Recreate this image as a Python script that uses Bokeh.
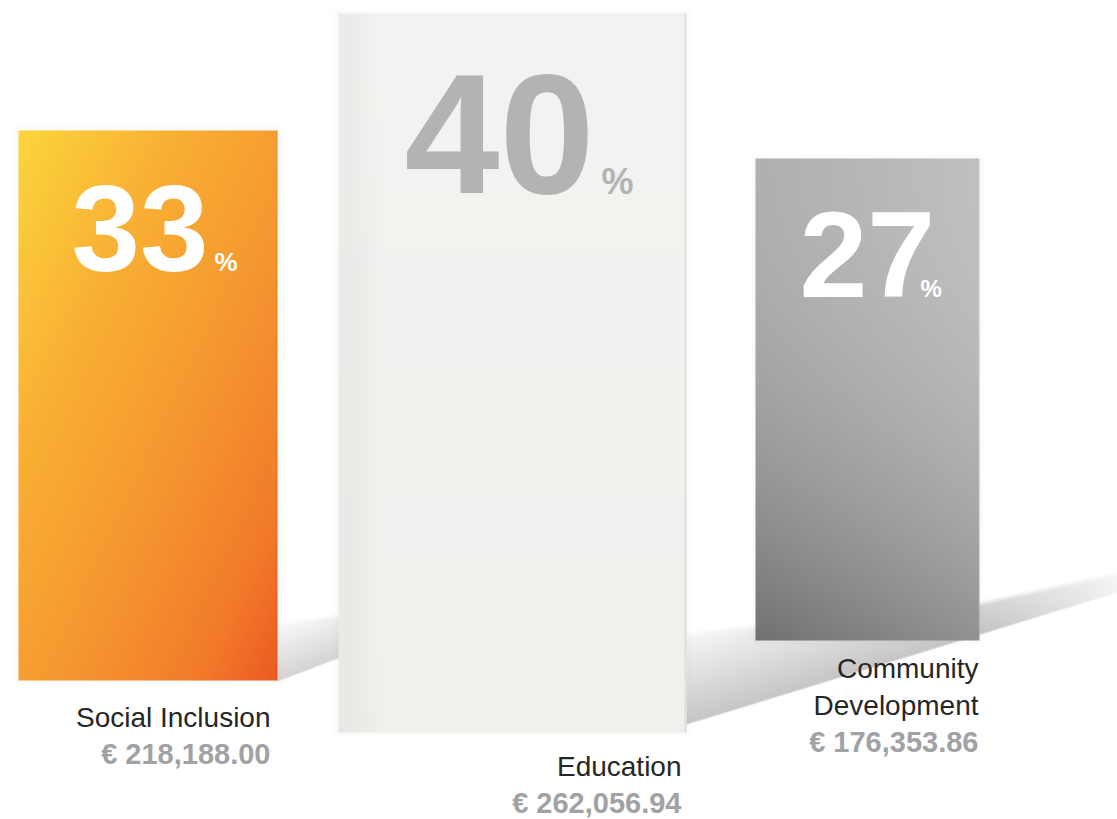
import numpy as np
from bokeh.plotting import figure
from bokeh.models import Range1d
from bokeh.core.properties import value
from bokeh.embed import file_html
from bokeh.resources import INLINE

# ---------------- data ----------------
categories = ["Social Inclusion", "Education", "Community Development"]
label_lines = [["Social Inclusion"], ["Education"], ["Community", "Development"]]
shares = [33, 40, 27]
amounts = [218188.00, 262056.94, 176353.86]

# ---------------- layout (reference pixel space, y downwards) ----------------
REF_W, REF_H = 1117, 819
bar_left = [18, 338, 755]
bar_right = [277, 686, 979]
bar_bottom = [680, 732, 640]
PX_PER_PCT = 17.9
depth = [0.931, 1.004, 0.997]          # perspective factor of each bar
num_x = [71, 404, 799]                  # left anchor of the big number
num_base = [272, 195, 298]
num_size = [123, 171, 122]
num_color = ["#ffffff", "#b2b4b4", "#ffffff"]
pct_x = [214, 601, 920]
pct_base = [271, 194, 297]
pct_size = [26, 36, 24]
label_right = [270, 681, 978]
amount_base = [764, 813, 752]
LINE_STEP = 37
LABEL_SIZE = 28
AMOUNT_SIZE = 29
FONT = "Liberation Sans"
BASE_CORR = 0.36   # baseline correction (em) for the text renderer


def Y(ref_y):
    return REF_H - ref_y


def TY(ref_base, size):
    return Y(ref_base) + BASE_CORR * size


p = figure(width=REF_W, height=REF_H, x_range=Range1d(0, REF_W), y_range=Range1d(0, REF_H),
           output_backend="svg", toolbar_location=None, min_border=0,
           x_axis_location=None, y_axis_location=None)
p.grid.visible = False
p.outline_line_color = None
p.background_fill_color = "white"
p.border_fill_color = "white"


def grid(xa, xb, ya, yb):
    xs = xa + 0.5 + np.arange(int(xb - xa))
    ys = ya + 0.5 + np.arange(int(yb - ya))
    return np.meshgrid(xs, ys)


def to_img(r, g, b, a):
    h, w = a.shape
    img = np.zeros((h, w), dtype=np.uint32)
    v = img.view(np.uint8).reshape(h, w, 4)
    v[..., 0] = np.clip(r, 0, 255)
    v[..., 1] = np.clip(g, 0, 255)
    v[..., 2] = np.clip(b, 0, 255)
    v[..., 3] = np.clip(a * 255, 0, 255)
    return img[::-1].copy()


def place(img, xa, ya, yb):
    h, w = img.shape
    p.image_rgba(image=[img], x=xa, y=Y(yb), dw=w, dh=h)


def line_fn(p0, p1):
    (x0, y0), (x1, y1) = p0, p1
    return lambda x: y0 + (y1 - y0) * (x - x0) / (x1 - x0)


def shadow(xa, xb, low, top, reach, strength, grey=150, fade_from=None, fade_len=1.0, fade_amt=0.0):
    ya = int(min(top(xa), top(xb))) - 2
    yb = int(max(low(xa), low(xb))) + 3
    X, Yg = grid(xa, xb, ya, yb)
    lo = low(X)
    tp = top(X)
    d = lo - Yg
    a = strength * np.clip(1 - d / reach, 0, 1)
    a *= np.clip(d / 1.5 + 0.5, 0, 1)
    a *= np.clip((Yg - tp) / 6.0, 0, 1)
    if fade_from is not None:
        a *= 1 - fade_amt * np.clip((X - fade_from) / fade_len, 0, 1)
    g = np.full_like(a, grey)
    place(to_img(g, g, g, a), xa, ya, yb)


# ---------------- shadows ----------------
shadow(277, 342, line_fn((277, 681), (340, 657)), line_fn((277, 620), (340, 612)),
       reach=65, strength=0.42)
low_ec = line_fn((686, 724), (1117, 592))


def top_ec(x):
    return np.where(x < 980, 630 + (600 - 630) * (x - 686) / (980 - 686),
                    600 + (570 - 600) * (x - 980) / (1117 - 980))


shadow(686, 1117, low_ec, top_ec, reach=105, strength=0.55,
       fade_from=990, fade_len=127, fade_amt=0.8)

# ---------------- bars ----------------
tops = [bar_bottom[i] - shares[i] * PX_PER_PCT * depth[i] for i in range(3)]

for i in range(3):
    l, r, t, b = bar_left[i], bar_right[i], int(round(tops[i])), bar_bottom[i]
    m = 10
    X, Yg = grid(l - m, r + m, t - m, b + m)
    dx = np.maximum(np.maximum(l - X, X - r), 0)
    dy = np.maximum(np.maximum(t - Yg, Yg - b), 0)
    dist = np.sqrt(dx ** 2 + dy ** 2)
    a = 0.08 * np.exp(-dist / 3.0)
    g = np.full_like(a, 170)
    place(to_img(g, g, g, a), l - m, t - m, b + m)

# orange bar
i = 0
l, r, t, b = bar_left[i], bar_right[i], int(round(tops[i])), bar_bottom[i]
X, Yg = grid(l, r, t, b)
u = (X - l) / (r - l)
vv = (Yg - t) / (b - t)
s = 0.5 * u + 0.5 * vv
stops = [0, 0.3, 0.6, 0.85, 1.0]
cols = np.array([(252, 214, 61), (249, 176, 52), (245, 150, 48), (242, 122, 42), (236, 90, 34)])
R = np.interp(s, stops, cols[:, 0])
G = np.interp(s, stops, cols[:, 1])
B = np.interp(s, stops, cols[:, 2])
edge = X > r - 1.5
R = np.where(edge, R * 0.9, R)
G = np.where(edge, G * 0.9, G)
B = np.where(edge, B * 0.9, B)
place(to_img(R, G, B, np.ones_like(R)), l, t, b)

# white bar
i = 1
l, r, t, b = bar_left[i], bar_right[i], int(round(tops[i])), bar_bottom[i]
X, Yg = grid(l, r, t, b)
u = (X - l) / (r - l)
vv = (Yg - t) / (b - t)
strip = 7 * (1 - np.clip((u - 0.04) / 0.08, 0, 1))
base = np.stack([243 - strip - 4 * vv, 244 - strip - 3 * vv, 241 - strip - 4 * vv])
edge = (X > r - 2.5)
R = np.where(edge, 222, base[0])
G = np.where(edge, 223, base[1])
B = np.where(edge, 221, base[2])
place(to_img(R, G, B, np.ones_like(R)), l, t, b)

# grey bar
i = 2
l, r, t, b = bar_left[i], bar_right[i], int(round(tops[i])), bar_bottom[i]
X, Yg = grid(l, r, t, b)
u = (X - l) / (r - l)
vv = ((Yg - t) / (b - t)) ** 2.2
TL, TR = np.array([174, 175, 174]), np.array([192, 193, 191])
BL, BR = np.array([112, 113, 112]), np.array([146, 147, 145])
chan = []
for c in range(3):
    topc = TL[c] + (TR[c] - TL[c]) * u
    botc = BL[c] + (BR[c] - BL[c]) * u
    chan.append(topc + (botc - topc) * vv)
edge = (X > r - 1.5)
chan = [np.where(edge, ch + 12, ch) for ch in chan]
place(to_img(chan[0], chan[1], chan[2], np.ones_like(chan[0])), l, t, b)

# ---------------- texts ----------------
for i in range(3):
    p.text(x=[num_x[i]], y=[TY(num_base[i], num_size[i])], text=[str(shares[i])],
           text_font=value(FONT), text_font_style="bold", text_font_size=f"{num_size[i]}px",
           text_color=num_color[i], text_align="left", text_baseline="alphabetic")
    p.text(x=[pct_x[i]], y=[TY(pct_base[i], pct_size[i])], text=["%"],
           text_font=value(FONT), text_font_style="bold", text_font_size=f"{pct_size[i]}px",
           text_color=num_color[i], text_align="left", text_baseline="alphabetic")
    lines = label_lines[i]
    n = len(lines)
    for k, ln in enumerate(lines):
        yb = amount_base[i] - LINE_STEP * (n - k)
        p.text(x=[label_right[i]], y=[TY(yb, LABEL_SIZE)], text=[ln],
               text_font=value(FONT), text_font_size=f"{LABEL_SIZE}px", text_color="#262626",
               text_align="right", text_baseline="alphabetic")
    p.text(x=[label_right[i]], y=[TY(amount_base[i], AMOUNT_SIZE)],
           text=["€ {:,.2f}".format(amounts[i])],
           text_font=value(FONT), text_font_style="bold", text_font_size=f"{AMOUNT_SIZE}px",
           text_color="#a1a2a5", text_align="right", text_baseline="alphabetic")

open("out.html", "w").write(file_html(p, INLINE))
